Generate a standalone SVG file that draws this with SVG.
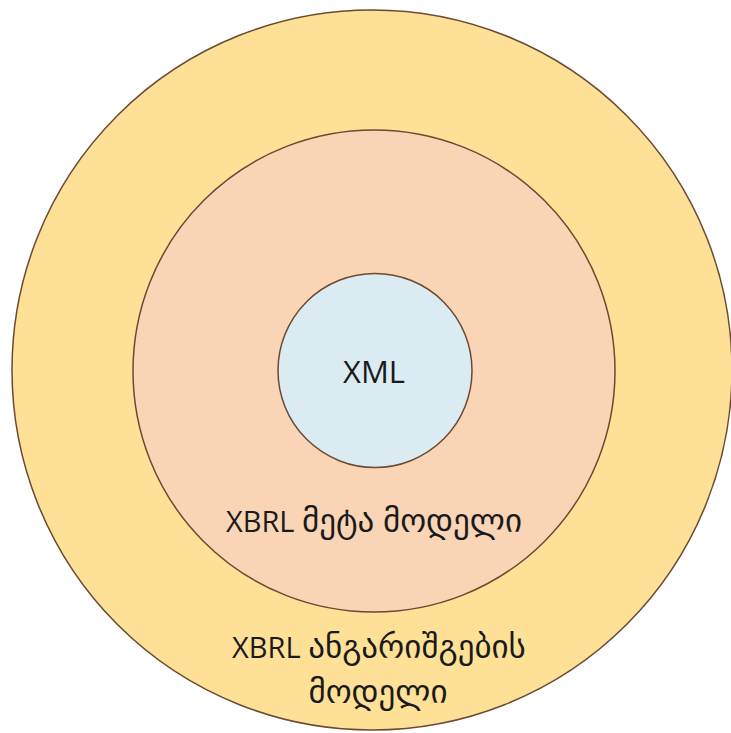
<svg xmlns="http://www.w3.org/2000/svg" width="731" height="733" viewBox="0 0 731 733">
  <style>
    .ring { stroke: #6b4a32; stroke-width: 1.5; }
    .label { font-family: "Open Sans", "DejaVu Sans", sans-serif; fill: #1a1a1a; text-anchor: middle; font-size: 29px; }
    .ka { font-size: 33px; }
  </style>
  <rect width="731" height="733" fill="#ffffff"/>
  <g id="reporting-model">
    <circle class="ring" cx="372" cy="370" r="360" fill="#fee097"/>
  </g>
  <g id="meta-model">
    <circle class="ring" cx="374" cy="371" r="241" fill="#f9d5b6"/>
  </g>
  <g id="xml">
    <circle class="ring" cx="375" cy="370.5" r="97" fill="#dbebf2"/>
    <text class="label" x="374" y="383" style="font-size:31px">XML</text>
  </g>
  <g id="meta-model-label">
    <text class="label" x="374" y="532">XBRL <tspan class="ka">მეტა მოდელი</tspan></text>
  </g>
  <g id="reporting-model-label">
    <text class="label" x="379" y="658">XBRL <tspan class="ka">ანგარიშგების</tspan></text>
    <text class="label" x="378" y="703"><tspan class="ka">მოდელი</tspan></text>
  </g>
  <g id="connectors"/>
</svg>
